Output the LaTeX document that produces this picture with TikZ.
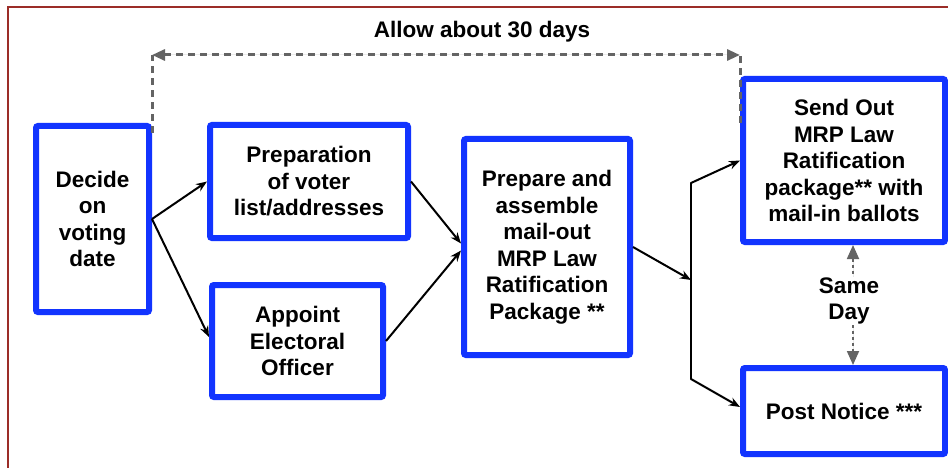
\documentclass[tikz,border=0pt]{standalone}
\usepackage{fontspec}
\setmainfont{Liberation Sans}
\usetikzlibrary{arrows.meta}
\definecolor{boxblue}{RGB}{18,52,255}
\definecolor{framered}{RGB}{155,45,40}
\definecolor{dashgray}{RGB}{100,100,100}

\begin{document}
\begin{tikzpicture}[x=1pt,y=-1pt,
  stepbox/.style={draw=boxblue, line width=6pt, rounded corners=2pt, fill=white,
    inner sep=0pt, align=center, font=\bfseries\fontsize{22.5}{26.5}\selectfont},
  flow/.style={line width=2pt, -{Stealth[length=11pt,width=8.5pt]}},
  plainline/.style={line width=2pt},
  spanline/.style={draw=dashgray, line width=3pt, dash pattern=on 7pt off 5pt},
  spantip/.style={{Triangle[length=13pt,width=11pt]}-{Triangle[length=13pt,width=11pt]}},
  sameline/.style={draw=dashgray, line width=1.8pt, dash pattern=on 3pt off 3pt,
    {Triangle[length=14pt,width=12pt]}-{Triangle[length=14pt,width=12pt]}},
  caption/.style={font=\bfseries\fontsize{22.5}{26.5}\selectfont, align=center}
]
\useasboundingbox (0,0) rectangle (948,468);
\clip (0,0) rectangle (948,468);
\fill[white] (0,0) rectangle (948,468);

% outer frame
\draw[framered, line width=2pt] (8,7) rectangle (980,500);

% process boxes
\node[stepbox, minimum width=113pt, minimum height=186pt] (dec) at (92.5,219) {Decide\\on\\voting\\date};
\node[stepbox, minimum width=198pt, minimum height=113pt] (prep) at (309,181.5) {Preparation\\of voter\\list/addresses};
\node[stepbox, minimum width=171pt, minimum height=112pt] (appt) at (297.5,341) {Appoint\\Electoral\\Officer};
\node[stepbox, minimum width=166pt, minimum height=216pt] (pkg) at (547,247) {Prepare and\\assemble\\mail-out\\MRP Law\\Ratification\\Package **};
\node[stepbox, minimum width=202pt, minimum height=163pt] (send) at (844,160.5) {Send Out\\MRP Law\\Ratification\\package** with\\mail-in ballots};
\node[stepbox, minimum width=202pt, minimum height=86pt] (post) at (844,411) {Post Notice ***};

% flow connectors
\draw[flow] (dec.east) -- (prep.west);
\draw[flow] (dec.east) -- ([yshift=4pt]appt.west);
\draw[flow] (prep.east) -- ([yshift=3.5pt]pkg.west);
\draw[flow] (appt.east) -- ([yshift=-3.5pt]pkg.west);

\coordinate (join) at (691,280);
\coordinate (jtop) at (691,183);
\coordinate (jbot) at (691,379);
\draw[flow] (pkg.east) -- (join);
\draw[plainline, line cap=round] (jtop) -- (jbot);
\draw[flow] (jtop) -- (send.west);
\draw[flow] (jbot) -- ([yshift=4pt]post.west);

% time span marker
\coordinate (spanL) at (152,55);
\coordinate (spanR) at (740,55);
\draw[spanline] ([yshift=-10pt]dec.north east) -- (spanL);
\draw[spanline] ([yshift=-47pt]send.north west) -- (spanR);
\draw[spanline, spantip, fill=dashgray] (spanL) -- (spanR);
\node[caption] (span) at (482,32) {Allow about 30 days};

% same-day link
\draw[sameline, fill=dashgray] ([xshift=9pt]send.south) -- ([xshift=9pt]post.north);
\node[caption, fill=white, inner sep=1pt] (same) at (849,301) {Same\\Day};
\end{tikzpicture}
\end{document}
